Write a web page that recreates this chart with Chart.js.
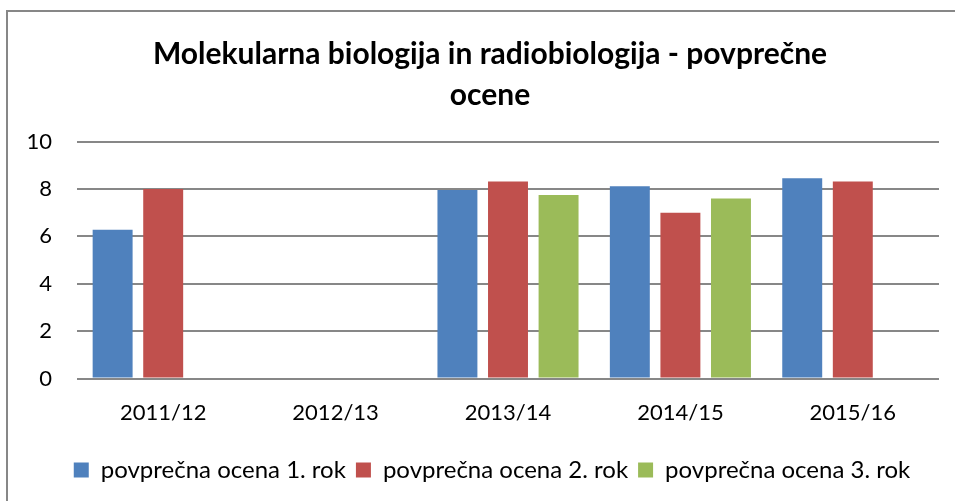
<!DOCTYPE html>
<html>
<head>
<meta charset="utf-8">
<script src="https://cdn.jsdelivr.net/npm/chart.js@4.4.0/dist/chart.umd.min.js"></script>
<style>
  html, body { margin: 0; padding: 0; background: #fff; }
  #wrap { width: 955px; height: 501px; }
</style>
</head>
<body>
<div id="wrap"><canvas id="myChart"></canvas></div>
<script>
const years = ['2011/12', '2012/13', '2013/14', '2014/15', '2015/16'];
const rok1 = [6.28, null, 7.96, 8.12, 8.45];
const rok2 = [8.0, null, 8.32, 7.0, 8.32];
const rok3 = [null, null, 7.75, 7.6, null];
const seriesNames = ['povprečna ocena 1. rok', 'povprečna ocena 2. rok', 'povprečna ocena 3. rok'];
const yTicks = [0, 2, 4, 6, 8, 10];

const fontName = 'Lato, "Noto Sans", sans-serif';

// frame line on the top and left side, like the cropped office chart
const framePlugin = {
    id: 'frame',
    afterLayout(chart) {
        // office centres title and legend on the whole frame, not the padded area
        chart.titleBlock.left += 17;
        chart.titleBlock.right += 17;
        chart.legend.left += 19;
        chart.legend.right += 19;
    },
    beforeDraw(chart) {
        const ctx = chart.ctx;
        ctx.save();
        ctx.fillStyle = '#fff';
        ctx.fillRect(0, 0, chart.width, chart.height);
        ctx.strokeStyle = '#878787';
        ctx.lineWidth = 2;
        ctx.beginPath();
        ctx.moveTo(7, chart.height);
        ctx.lineTo(7, 11);
        ctx.lineTo(chart.width, 11);
        ctx.stroke();
        ctx.restore();
    }
};

const makeSet = (label, data, color) => ({
    label: label,
    data: data,
    backgroundColor: color,
    borderWidth: 0,
    barPercentage: 0.79,
    categoryPercentage: 0.88
});

const ctx = document.getElementById('myChart').getContext('2d');
const chart = new Chart(ctx, {
    type: 'bar',
    data: {
        labels: years,
        datasets: [
            makeSet(seriesNames[0], rok1, '#4f81bd'),
            makeSet(seriesNames[1], rok2, '#c0504d'),
            makeSet(seriesNames[2], rok3, '#9bbb59')
        ]
    },
    plugins: [framePlugin],
    options: {
        responsive: true,
        maintainAspectRatio: false,
        animation: false,
        layout: { padding: { left: 7, right: 16, top: 34, bottom: 9 } },
        plugins: {
            title: {
                display: true,
                text: ['Molekularna biologija in radiobiologija - povprečne', 'ocene'],
                color: '#000',
                font: { family: fontName, size: 30, weight: 'bold', lineHeight: 1.36 },
                padding: { top: 0, bottom: 26 }
            },
            legend: {
                position: 'bottom',
                labels: {
                    color: '#000',
                    font: { family: fontName, size: 24 },
                    boxWidth: 15,
                    boxHeight: 15,
                    padding: 10
                }
            },
            tooltip: { enabled: false }
        },
        scales: {
            x: {
                afterFit(scale) { scale.height += 9; },
                grid: { display: false },
                border: { display: false },
                ticks: { color: '#000', font: { family: fontName, size: 22 }, padding: 13 }
            },
            y: {
                min: 0,
                max: 10,
                afterBuildTicks(scale) {
                    scale.ticks = yTicks.map(v => ({ value: v }));
                },
                afterFit(scale) { scale.width = 70; },
                grid: { color: '#878787', lineWidth: 2, drawTicks: false },
                border: { display: false },
                ticks: { color: '#000', font: { family: fontName, size: 22 }, padding: 25 }
            }
        }
    }
});
</script>
</body>
</html>
